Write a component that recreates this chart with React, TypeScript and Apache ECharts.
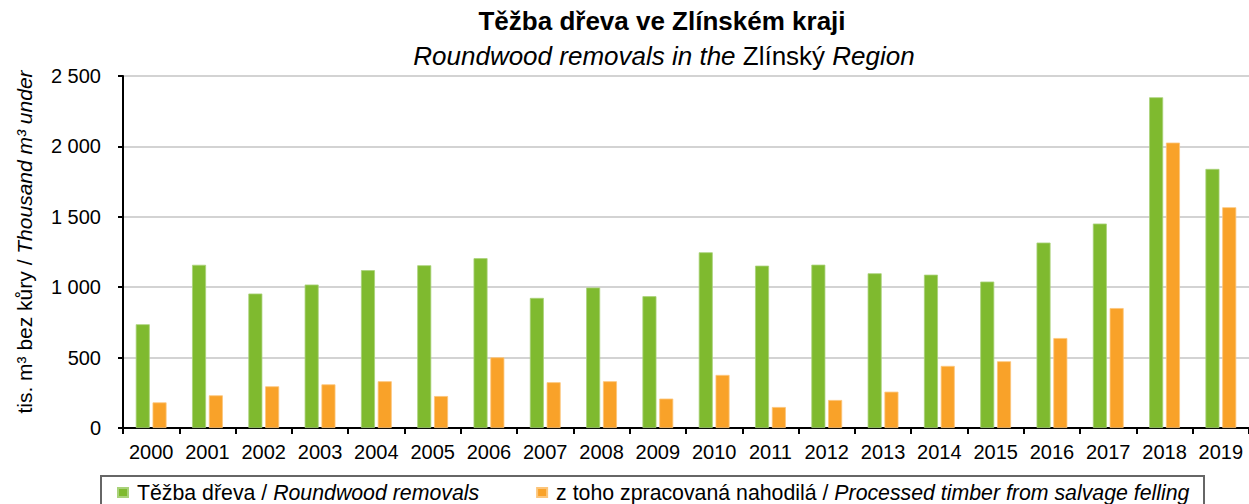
import React, { useEffect, useRef } from "react";
import * as echarts from "echarts";

const years = ["2000","2001","2002","2003","2004","2005","2006","2007","2008","2009","2010","2011","2012","2013","2014","2015","2016","2017","2018","2019"];
const roundwood = [737, 1159, 955, 1019, 1121, 1156, 1206, 924, 998, 936, 1248, 1153, 1160, 1099, 1089, 1040, 1317, 1452, 2349, 1840];
const salvage = [182, 232, 296, 310, 332, 227, 502, 325, 332, 209, 377, 149, 199, 258, 441, 474, 639, 852, 2027, 1568];
const yTicks = { min: 0, max: 2500, interval: 500 };

const FONT = "Liberation Sans, Arial, sans-serif";

export default function App() {
  const ref = useRef<HTMLDivElement>(null);
  useEffect(() => {
    document.body.style.margin = "0";
    const chart = echarts.init(ref.current!, null, { renderer: "svg" });
    const fmt = (v: number) => String(v).replace(/\B(?=(\d{3})+(?!\d))/g, " ");
    chart.setOption({
      animation: false,
      textStyle: { fontFamily: FONT, color: "#000" },
      grid: { left: 123, width: 1128, top: 76, bottom: 76, containLabel: false },
      xAxis: {
        type: "category",
        data: years,
        axisLine: { lineStyle: { color: "#000", width: 2 } },
        axisTick: { show: true, length: 6, lineStyle: { color: "#000", width: 2 } },
        axisLabel: { fontSize: 20, color: "#000", margin: 14, fontFamily: FONT, interval: 0 },
      },
      yAxis: {
        type: "value",
        min: yTicks.min,
        max: yTicks.max,
        interval: yTicks.interval,
        axisLine: { show: true, lineStyle: { color: "#000", width: 2 } },
        axisTick: { show: true, length: 5, lineStyle: { color: "#000", width: 2 } },
        axisLabel: { fontSize: 20, color: "#000", margin: 22, fontFamily: FONT, formatter: fmt },
        splitLine: { lineStyle: { color: "#c4c4c4", width: 1.5 } },
      },
      legend: {
        left: 112,
        top: 477,
        itemWidth: 10,
        itemHeight: 9,
        itemGap: 57,
        icon: "rect",
        textStyle: {
          fontSize: 21.3,
          color: "#000",
          fontFamily: FONT,
          rich: {
            sp: { width: 4, fontSize: 21.3, fontFamily: FONT },
            i: { fontStyle: "italic", fontSize: 21.3, color: "#000", fontFamily: FONT },
          },
        },
        formatter: (name: string) => {
          const [cz, en] = name.split(" / ");
          return "{sp|}" + cz + " / {i|" + en + "}";
        },
      },
      graphic: [
        {
          type: "rect",
          shape: { x: 101, y: 476, width: 1103, height: 40 },
          style: { fill: "none", stroke: "#666", lineWidth: 2 },
          silent: true,
        },
        {
          type: "text",
          x: 662,
          y: 21,
          style: {
            text: "Těžba dřeva ve Zlínském kraji",
            font: "bold 26px " + FONT,
            fill: "#000",
            textAlign: "center",
            textVerticalAlign: "middle",
          },
        },
        {
          type: "text",
          x: 664,
          y: 56,
          style: {
            text: "{i|Roundwood removals in the }{n|Zlínský}{i| Region}",
            textAlign: "center",
            textVerticalAlign: "middle",
            rich: {
              i: { font: "italic 26px " + FONT, fill: "#000" },
              n: { font: "26px " + FONT, fill: "#000" },
            },
          },
        },
        {
          type: "text",
          x: 24,
          y: 242,
          rotation: Math.PI / 2,
          style: {
            text: "{n|tis. m³ bez kůry / }{i|Thousand m³ under}",
            textAlign: "center",
            textVerticalAlign: "middle",
            rich: {
              i: { font: "italic 21px " + FONT, fill: "#000" },
              n: { font: "21px " + FONT, fill: "#000" },
            },
          },
        },
      ],
      series: [
        {
          name: "Těžba dřeva / Roundwood removals",
          type: "bar",
          data: roundwood,
          barWidth: 14,
          barGap: "20%",
          itemStyle: { color: "#7fba2f", borderColor: "#a9d27a", borderWidth: 0.8 },
        },
        {
          name: "z toho zpracovaná nahodilá / Processed timber from salvage felling",
          type: "bar",
          data: salvage,
          barWidth: 14,
          barGap: "20%",
          itemStyle: { color: "#f9a229", borderColor: "#fcc57a", borderWidth: 0.8 },
        },
      ],
    });
    return () => chart.dispose();
  }, []);
  return <div ref={ref} style={{ width: 1249, height: 504 }} />;
}
